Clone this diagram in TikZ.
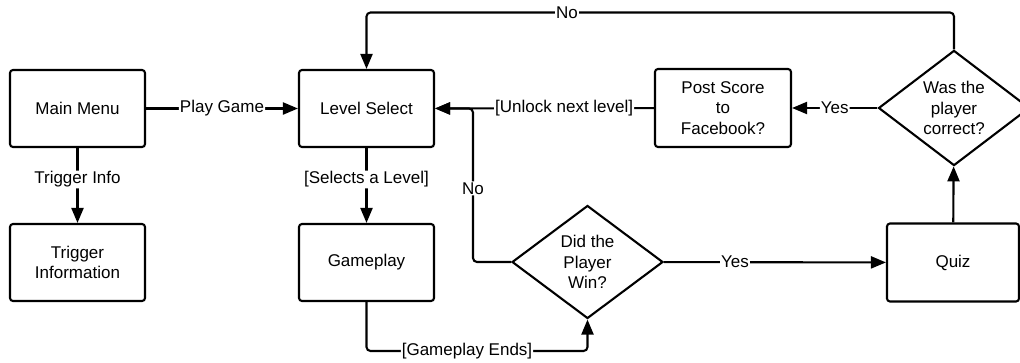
\documentclass[tikz,border=0pt]{standalone}
\usepackage{fontspec}
\setmainfont{Liberation Sans}
\usetikzlibrary{arrows.meta,shapes.geometric}
\tikzset{
	stage/.style={draw, line width=2.1pt, rounded corners=3pt, minimum width=135pt, minimum height=77pt, inner sep=2pt, align=center, font=\fontsize{17}{20.5}\selectfont},
	choice/.style={draw, diamond, line width=2.1pt, minimum width=151pt, minimum height=113pt, inner sep=0pt, align=center, font=\fontsize{17}{20.5}\selectfont},
	flow/.style={line width=2.1pt, rounded corners=4pt, -{Triangle[length=15pt, width=12pt]}},
	tag/.style={fill=white, inner sep=1pt, font=\fontsize{17}{20.5}\selectfont}
}

\begin{document}
\begin{tikzpicture}[x=1pt, y=-1pt]
	%%%%% START %%%%%
	\useasboundingbox (0, 0) rectangle (1020, 362);
	
	\node[stage] (menu) at (77.5, 108.5) {Main Menu};
	\node[stage] (trig) at (77.5, 262.5) {Trigger\\Information};
	
	\node[stage] (lvl) at (366.5, 108.5) {Level Select};
	\node[stage] (game) at (366.5, 262.5) {Gameplay};
	
	\node[stage, minimum width=136pt, minimum height=78pt] (post) at (723, 108) {Post Score\\to\\Facebook?};
	\node[stage, minimum width=132pt, minimum height=78pt] (quiz) at (953, 262.5) {Quiz};
	
	\node[choice] (win) at (587.5, 262) {Did the\\Player\\Win?};
	\node[choice] (cor) at (954, 108) {Was the\\player\\correct?};
	
	\coordinate (nojoin) at (473, 108.5);
	\coordinate (endjoin) at (467, 351);
	\coordinate (topjoin) at (567, 12.5);
	
	\draw[flow] (menu) -- node[tag] (playtag) {Play Game} (lvl);
	\draw[flow] (menu) -- node[tag, pos=0.42] (infotag) {Trigger Info} (trig);
	\draw[flow] (lvl) -- node[tag, pos=0.42] (picktag) {[Selects a Level]} (game);
	
	\draw[flow] (game.south) |- (endjoin) node[tag] (endtag) {[Gameplay Ends]} -| (win.south);
	\draw[flow] (win.west) -| node[tag, pos=0.74] (losetag) {No} (nojoin) -- (lvl.east);
	\draw[flow] (win) -- node[tag, pos=0.32] (wintag) {Yes} (quiz);
	
	\draw[flow] (quiz) -- (cor);
	\draw[flow] (cor) -- node[tag] (righttag) {Yes} (post);
	\draw[flow] (post) -- node[tag, pos=0.41] (unlocktag) {[Unlock next level]} (lvl);
	\draw[flow] (cor.north) |- (topjoin) node[tag] (wrongtag) {No} -| (lvl.north);
	
	%%%%% END %%%%%
\end{tikzpicture}
\end{document}
